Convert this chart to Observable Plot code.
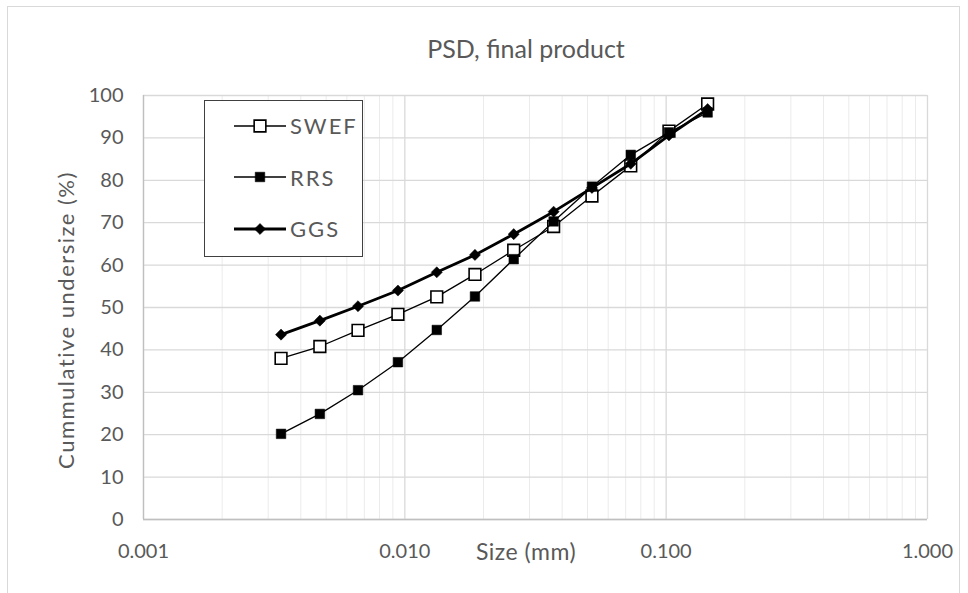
<!DOCTYPE html>
<html>
<head>
<meta charset="utf-8">
<script src="https://cdn.jsdelivr.net/npm/d3@7"></script>
<script src="https://cdn.jsdelivr.net/npm/@observablehq/plot@0.6"></script>
<style>
  body { margin: 0; background: #fff; font-family: Lato, "Open Sans", sans-serif; }
  #wrap { position: relative; width: 968px; height: 593px; overflow: hidden; }
  #frame { position: absolute; left: 7px; top: 6px; width: 953px; height: 620px; border: 1px solid #d9d9d9; box-sizing: border-box; }
  #title { position: absolute; left: 0; width: 1052px; top: 33px; line-height: 30px; text-align: center; font-size: 25px; color: #595959; }
  #ytitle { position: absolute; left: 65px; top: 320px; transform: translate(-50%, -50%) rotate(-90deg); white-space: nowrap; font-size: 22px; color: #595959; letter-spacing: 1.5px; }
  #xtitle { position: absolute; left: 526px; top: 551px; transform: translate(-50%, -50%); white-space: nowrap; font-size: 23px; color: #595959; letter-spacing: 0.5px; }
  #legend { position: absolute; left: 204px; top: 100px; width: 159px; height: 157px; border: 1.5px solid #404040; box-sizing: border-box; background: #fff; }
  .item { position: absolute; left: 28px; height: 30px; display: flex; align-items: center; }
  .item span { font-size: 22px; color: #595959; margin-left: 3px; letter-spacing: 2px; }
</style>
</head>
<body>
<div id="wrap">
  <div id="frame"></div>
  <div id="chart"></div>
  <div id="title">PSD, final product</div>
  <div id="ytitle">Cummulative undersize (%)</div>
  <div id="xtitle">Size (mm)</div>
  <div id="legend"></div>
</div>
<script>
// ---- data ----
const sizes = [0.00336, 0.00473, 0.00662, 0.00941, 0.01325, 0.01855, 0.0261, 0.0371, 0.052, 0.0732, 0.1025, 0.1441];
const swef  = [38.0, 40.8, 44.6, 48.4, 52.5, 57.8, 63.5, 69.1, 76.3, 83.4, 91.6, 98.0];
const rrs   = [20.2, 24.9, 30.5, 37.1, 44.7, 52.6, 61.4, 70.3, 78.5, 86.0, 91.3, 96.0];
const ggs   = [43.6, 46.9, 50.3, 54.0, 58.3, 62.4, 67.3, 72.6, 78.2, 83.9, 90.6, 96.8];
const seriesNames = ["SWEF", "RRS", "GGS"];
const xTicks = [0.001, 0.01, 0.1, 1];
const yTicks = [0, 10, 20, 30, 40, 50, 60, 70, 80, 90, 100];

const styles = {
  SWEF: {symbol: "square", r: 6.6, fill: "white", stroke: "black", sw: 1.3, msw: 1.6},
  RRS:  {symbol: "square", r: 5.4, fill: "black", stroke: "black", sw: 1.3, msw: 0.5},
  GGS:  {symbol: "diamond2", r: 5.0, fill: "black", stroke: "black", sw: 2.8, msw: 0.5}
};
const valuesBy = {SWEF: swef, RRS: rrs, GGS: ggs};
const rows = seriesNames.map(name => sizes.map((s, i) => ({series: name, size: s, value: valuesBy[name][i]})));

// minor log gridlines (2..9 within each decade)
const minor = [];
for (let d = 0; d < 3; d++) for (let k = 2; k <= 9; k++) minor.push(k * xTicks[d]);

const marks = [
  Plot.ruleX(minor, {stroke: "#ebebeb", strokeWidth: 1}),
  Plot.ruleX(xTicks, {stroke: "#d9d9d9", strokeWidth: 1.3}),
  Plot.ruleY(yTicks, {stroke: "#d9d9d9", strokeWidth: 1.3}),
  Plot.ruleY([0], {stroke: "#bfbfbf", strokeWidth: 1.3}),
  Plot.ruleX([0.001], {stroke: "#bfbfbf", strokeWidth: 1.3}),
  Plot.axisX(xTicks, {tickSize: 0, tickFormat: d3.format(".3f"), fontSize: 20, fill: "#595959", tickPadding: 24, label: null}),
  Plot.axisY(yTicks, {tickSize: 0, fontSize: 20, fill: "#595959", tickPadding: 20, label: null})
];
for (const data of rows) {
  const st = styles[data[0].series];
  marks.push(Plot.line(data, {x: "size", y: "value", stroke: st.stroke, strokeWidth: st.sw}));
  marks.push(Plot.dot(data, {x: "size", y: "value", symbol: st.symbol, r: st.r, fill: st.fill, stroke: st.stroke, strokeWidth: st.msw}));
}

const chart = Plot.plot({
  width: 968,
  height: 593,
  marginLeft: 143,
  marginRight: 41,
  marginTop: 95,
  marginBottom: 74,
  style: {fontFamily: "Lato, 'Open Sans', sans-serif", background: "transparent", overflow: "visible"},
  x: {type: "log", domain: [0.001, 1]},
  y: {domain: [0, 100]},
  marks
});
document.getElementById("chart").appendChild(chart);

// legend
const legend = document.getElementById("legend");
seriesNames.forEach((name, i) => {
  const st = styles[name];
  const item = document.createElement("div");
  item.className = "item";
  item.style.top = (9.5 + i * 51.5) + "px";
  const sym = d3.create("svg").attr("width", 54).attr("height", 30);
  sym.append("line").attr("x1", 1).attr("x2", 53).attr("y1", 15).attr("y2", 15)
    .attr("stroke", "black").attr("stroke-width", st.sw);
  const area = Math.PI * st.r * st.r;
  const shape = st.symbol === "square" ? d3.symbolSquare : d3.symbolDiamond2;
  sym.append("path").attr("d", d3.symbol(shape, area)()).attr("transform", "translate(27,15)")
    .attr("fill", st.fill).attr("stroke", st.stroke).attr("stroke-width", st.msw);
  item.appendChild(sym.node());
  const label = document.createElement("span");
  label.textContent = name;
  item.appendChild(label);
  legend.appendChild(item);
});
</script>
</body>
</html>
